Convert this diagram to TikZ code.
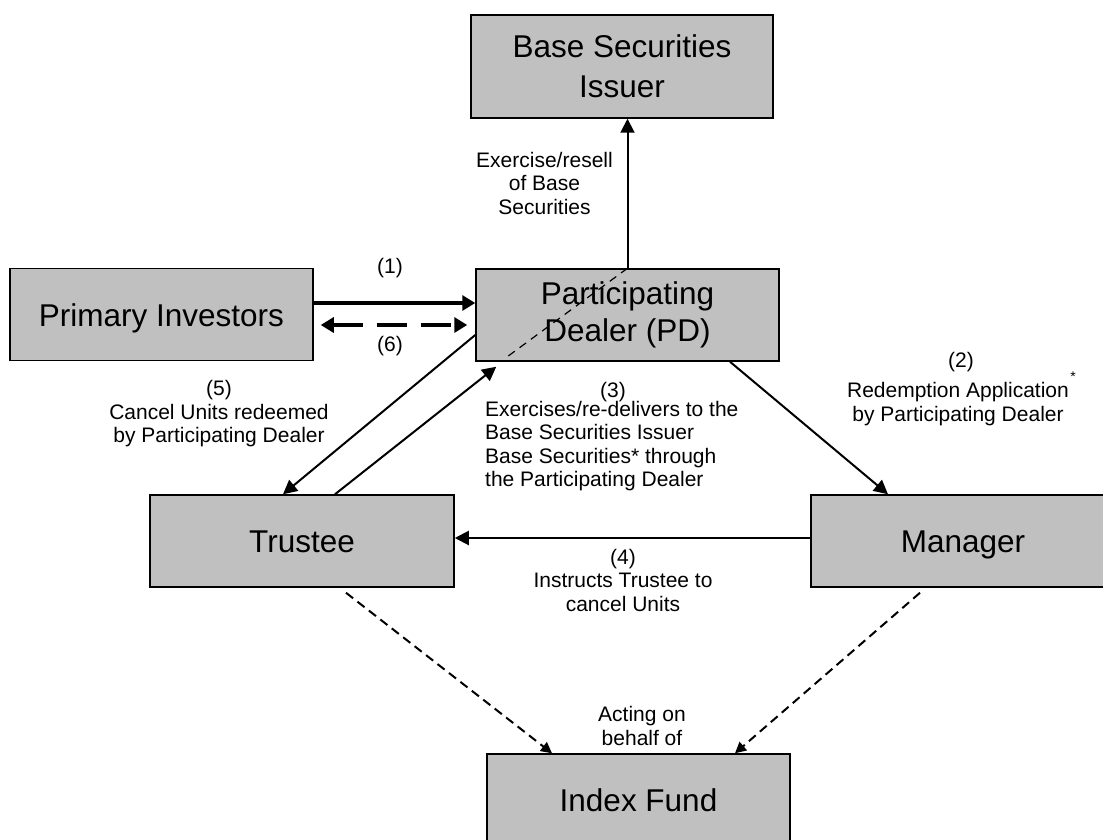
\documentclass[tikz,border=0pt]{standalone}
\usepackage{fontspec}
\setmainfont{Liberation Sans}
\usetikzlibrary{arrows.meta,calc}
\definecolor{boxgray}{HTML}{C0C0C0}
\begin{document}
\begin{tikzpicture}[x=1pt,y=-1pt,
  box/.style={draw=black, line width=1.5pt, fill=boxgray, minimum width=303pt, minimum height=92pt, inner sep=0pt, font=\fontsize{31.5}{36.5}\selectfont, align=center},
  onebox/.style={box, text height=23pt, text depth=0pt},
  lbl/.style={font=\fontsize{21}{23.5}\selectfont, align=center, inner sep=0pt},
  arr/.style={line width=2pt, -{Triangle[length=14pt,width=14pt]}},
  thickarr/.style={line width=3.3pt, -{Triangle[length=13pt,width=15pt]}},
  dasharr/.style={line width=3.3pt, dash pattern=on 30pt off 14pt, {Triangle[length=13pt,width=15pt]}-{Triangle[length=13pt,width=15pt]}},
  dotarr/.style={line width=2pt, dash pattern=on 9pt off 5.5pt, -{Triangle[length=11pt,width=11pt]}},
  innerdash/.style={line width=1.2pt, dash pattern=on 8pt off 6pt}
]
\useasboundingbox (0,0) rectangle (1103,840);
\clip (0,0) rectangle (1103,840);

% boxes
\node[box, minimum width=302pt, minimum height=103pt, font=\fontsize{31.5}{40}\selectfont] (bsi) at (622,66.5) {Base Securities\\Issuer};
\node[onebox] (pi) at (161.5,314.5) {Primary Investors};
\node[box] (pd) at (627.5,315) {Participating\\Dealer (PD)};
\node[onebox, minimum width=304pt] (tr) at (302,541) {Trustee};
\node[onebox, minimum width=304pt] (mg) at (963,541) {Manager};
\node[onebox] (fund) at (638.5,800) {Index Fund};

% connectors
\draw[arr] (pd.north) -- (pd.north |- bsi.south);
\coordinate (dashend) at ($(pd.south west)+(32,-5)$);
\draw[innerdash] (pd.north) -- (dashend);
\draw[thickarr] ([yshift=11.5pt]pi.east) -- ([yshift=12pt]pd.west);
\draw[dasharr] ([xshift=7pt,yshift=-10.5pt]pi.east) -- ([xshift=-8pt,yshift=-10pt]pd.west);
\draw[arr] ([yshift=-20pt]pd.west) -- ([xshift=-19pt]tr.north);
\draw[arr] ([xshift=33pt]tr.north) -- ([xshift=21pt,yshift=-5pt]pd.south west);
\draw[arr] ([xshift=102.5pt]pd.south) -- ([xshift=-75pt]mg.north);
\draw[arr] ([yshift=3pt]mg.west) -- ([yshift=3pt]tr.east);
\draw[dotarr] ([xshift=44pt,yshift=-5pt]tr.south) -- ([xshift=-86.5pt]fund.north);
\draw[dotarr] ([xshift=-43pt,yshift=-5pt]mg.south) -- ([xshift=96.5pt]fund.north);

% labels
\node[lbl] (lex) at (544.5,183) {Exercise/resell\\of Base\\Securities};
\node[lbl] (l1) at (390,268) {(1)};
\node[lbl] (l6) at (390,346) {(6)};
\node[lbl] (l5) at (219,414) {(5)\\Cancel Units redeemed\\by Participating Dealer};
\node[lbl] (l3) at (613,392) {(3)};
\node[lbl, align=left, anchor=north west] (l3t) at (485,401) {Exercises/re-delivers to the\\Base Securities Issuer\\Base Securities* through\\the Participating Dealer};
\node[lbl] (l2) at (961,362) {(2)};
\node[lbl] (l2t) at (958,404) {Redemption Application\\by Participating Dealer};
\node[lbl, font=\fontsize{14}{16}\selectfont] (ast) at (1073,377) {*};
\node[lbl] (l4) at (623,580) {(4)\\Instructs Trustee to\\cancel Units};
\node[lbl] (lact) at (642,726) {Acting on\\behalf of};
\end{tikzpicture}
\end{document}
